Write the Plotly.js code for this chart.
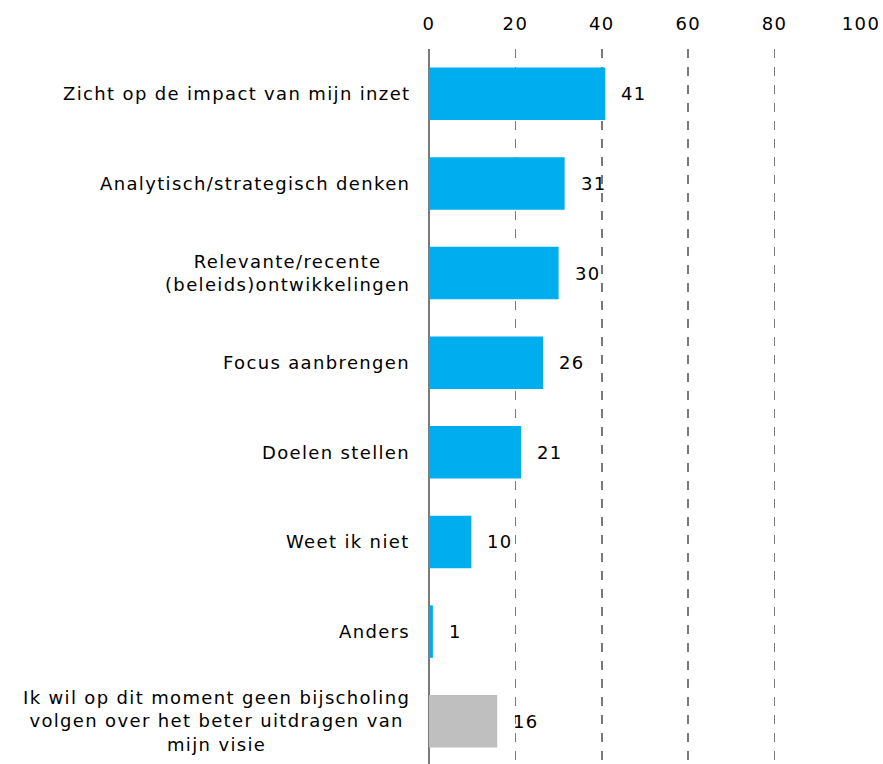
<!DOCTYPE html>
<html><head><meta charset="utf-8">
<script src="https://cdn.plot.ly/plotly-3.0.1.min.js"></script>
<style>html,body{margin:0;padding:0;background:#fff;overflow:hidden}
svg text{letter-spacing:1.35px}</style>
</head><body>
<div id="chart" style="width:883px;height:766px"></div>
<script>
const categories = [
  "Zicht op de impact van mijn inzet",
  "Analytisch/strategisch denken",
  "Relevante/recente<br>(beleids)ontwikkelingen",
  "Focus aanbrengen",
  "Doelen stellen",
  "Weet ik niet",
  "Anders",
  "Ik wil op dit moment geen bijscholing<br>volgen over het beter uitdragen van<br>mijn visie"
];
const values = [40.8, 31.4, 30.0, 26.4, 21.3, 9.8, 0.9, 15.8];
const valueLabels = ["41", "31", "30", "26", "21", "10", "1", "16"];
const barColors = ["#00AEEF","#00AEEF","#00AEEF","#00AEEF","#00AEEF","#00AEEF","#00AEEF","#BFBFBF"];
const tickVals = [0, 20, 40, 60, 80, 100];

const font = "DejaVu Sans, sans-serif";
const idx = categories.map((c, i) => i);

const annotations = [];
categories.forEach((c, i) => {
  annotations.push({
    xref: "paper", yref: "y", x: 0, y: i, xanchor: "right", yanchor: "middle",
    xshift: -17, text: c, align: "center", showarrow: false,
    font: {family: font, size: 18, color: "#000"}
  });
  annotations.push({
    xref: "x", yref: "y", x: values[i], y: i, xanchor: "left", yanchor: "middle",
    xshift: 14, text: valueLabels[i], showarrow: false,
    font: {family: font, size: 18, color: "#000"}
  });
});

Plotly.newPlot("chart", [{
  type: "bar", orientation: "h", x: values, y: idx,
  marker: {color: barColors}, width: 0.586, hoverinfo: "none"
}], {
  width: 883, height: 766,
  margin: {l: 429, r: 22, t: 49, b: 0},
  paper_bgcolor: "#fff", plot_bgcolor: "#fff",
  showlegend: false,
  xaxis: {
    range: [0, 100], side: "top", tickvals: tickVals, ticks: "",
    ticklabelstandoff: 14,
    showgrid: true, gridcolor: "#7a7a7a", gridwidth: 1.5, griddash: "dash",
    zeroline: true, zerolinecolor: "#7a7a7a", zerolinewidth: 2,
    showline: false, fixedrange: true,
    tickfont: {family: font, size: 18, color: "#000"}
  },
  yaxis: {
    range: [7.5, -0.5], showticklabels: false, showgrid: false,
    zeroline: false, showline: false, ticks: "", fixedrange: true
  },
  annotations: annotations
}, {displayModeBar: false, staticPlot: true});
</script>
</body></html>
